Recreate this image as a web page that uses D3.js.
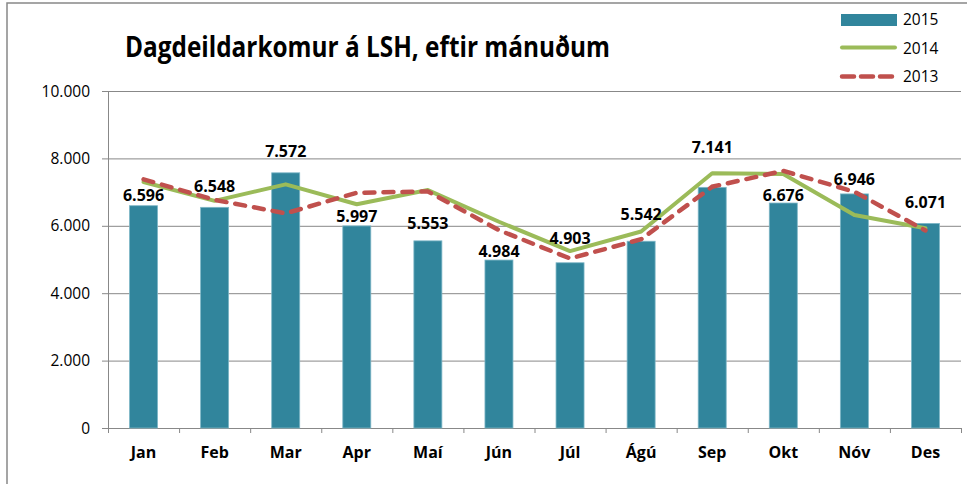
<!DOCTYPE html>
<html>
<head>
<meta charset="utf-8">
<script src="https://cdn.jsdelivr.net/npm/d3@7"></script>
<style>
  body { margin: 0; background: #fff; }
  svg { display: block; }
  text { font-family: "Open Sans", sans-serif; fill: #000; }
</style>
</head>
<body>
<div id="chart"></div>
<script>
// Gögn
const months = ["Jan", "Feb", "Mar", "Apr", "Maí", "Jún", "Júl", "Ágú", "Sep", "Okt", "Nóv", "Des"];
const v2015 = [6596, 6548, 7572, 5997, 5553, 4984, 4903, 5542, 7141, 6676, 6946, 6071];
const v2014 = [7300, 6740, 7230, 6640, 7060, 6120, 5250, 5830, 7560, 7540, 6320, 5930];
const v2013 = [7380, 6770, 6370, 6980, 7020, 5870, 5030, 5600, 7160, 7630, 7010, 5860];
const yTicks = [0, 2000, 4000, 6000, 8000, 10000];
// hve hátt merkin sitja yfir súlunum (handstillt eins og í Excel)
const labelLift = [5, 15, 16, 4, 12, 3, 19, 21, 34, 2, 9, 15];

const width = 967, height = 484;
const plotLeft = 108, plotRight = 961, plotTop = 91, plotBottom = 428;

const svg = d3.select("#chart").append("svg")
  .attr("width", width)
  .attr("height", height);

// rammi
svg.append("path")
  .attr("d", `M7,${height} V3 H${width}`)
  .attr("fill", "none")
  .attr("stroke", "#888")
  .attr("stroke-width", 1.5);

const x = d3.scaleBand().domain(months).range([plotLeft, plotRight]);
const y = d3.scaleLinear().domain([0, 10000]).range([plotBottom, plotTop]);
const fmt = d => d3.format(",")(d).replace(/,/g, ".");

// hnitalínur
svg.append("g").selectAll("line")
  .data(yTicks)
  .join("line")
  .attr("x1", plotLeft - 6).attr("x2", plotRight)
  .attr("y1", d => y(d) + 0.5).attr("y2", d => y(d) + 0.5)
  .attr("stroke", "#888").attr("stroke-width", 1);

svg.append("g").selectAll("text")
  .data(yTicks)
  .join("text")
  .attr("x", 90)
  .attr("y", d => y(d) + 5.5)
  .attr("text-anchor", "end")
  .attr("font-size", "15.5px")
  .text(d => fmt(d));

// y-ás
svg.append("line")
  .attr("x1", plotLeft + 0.5).attr("x2", plotLeft + 0.5)
  .attr("y1", plotTop).attr("y2", plotBottom + 5)
  .attr("stroke", "#888");

// x-ás merki
const bounds = months.map(m => x(m)).concat([plotRight]);
svg.append("g").selectAll("line")
  .data(bounds)
  .join("line")
  .attr("x1", d => d + 0.5).attr("x2", d => d + 0.5)
  .attr("y1", plotBottom).attr("y2", plotBottom + 5)
  .attr("stroke", "#888");

svg.append("g").selectAll("text")
  .data(months)
  .join("text")
  .attr("x", d => x(d) + x.bandwidth() / 2)
  .attr("y", 458)
  .attr("text-anchor", "middle")
  .attr("font-size", "16px")
  .attr("font-weight", "bold")
  .text(d => d);

// súlur 2015
const barW = 28;
svg.append("g").selectAll("rect")
  .data(v2015)
  .join("rect")
  .attr("x", (d, i) => x(months[i]) + x.bandwidth() / 2 - barW / 2)
  .attr("y", d => y(d))
  .attr("width", barW)
  .attr("height", d => plotBottom - y(d))
  .attr("fill", "#31859C")
  .attr("stroke", "#7db6c6")
  .attr("stroke-width", 0.8);

// línur
const line = d3.line()
  .x((d, i) => x(months[i]) + x.bandwidth() / 2)
  .y(d => y(d));

svg.append("path")
  .datum(v2014)
  .attr("d", line)
  .attr("fill", "none")
  .attr("stroke", "#9BBB59")
  .attr("stroke-width", 4)
  .attr("stroke-linecap", "round")
  .attr("stroke-linejoin", "round");

svg.append("path")
  .datum(v2013)
  .attr("d", line)
  .attr("fill", "none")
  .attr("stroke", "#C0504D")
  .attr("stroke-width", 4.5)
  .attr("stroke-linecap", "round")
  .attr("stroke-dasharray", "10,9");

// gildismerki
svg.append("g").selectAll("text")
  .data(v2015)
  .join("text")
  .attr("x", (d, i) => x(months[i]) + x.bandwidth() / 2)
  .attr("y", (d, i) => y(d) - labelLift[i])
  .attr("text-anchor", "middle")
  .attr("font-size", "16px")
  .attr("font-weight", "bold")
  .text(d => fmt(d));

// titill
svg.append("text")
  .attr("x", 125)
  .attr("y", 57)
  .attr("font-size", "28px")
  .attr("font-weight", "bold")
  .attr("textLength", 485)
  .attr("lengthAdjust", "spacingAndGlyphs")
  .text("Dagdeildarkomur á LSH, eftir mánuðum");

// skýringar
const legend = svg.append("g");
legend.append("rect")
  .attr("x", 841).attr("y", 14)
  .attr("width", 56).attr("height", 12)
  .attr("fill", "#31859C");
legend.append("line")
  .attr("x1", 842).attr("x2", 895)
  .attr("y1", 47.5).attr("y2", 47.5)
  .attr("stroke", "#9BBB59").attr("stroke-width", 4)
  .attr("stroke-linecap", "round");
legend.append("line")
  .attr("x1", 842).attr("x2", 895)
  .attr("y1", 76.5).attr("y2", 76.5)
  .attr("stroke", "#C0504D").attr("stroke-width", 4.5)
  .attr("stroke-linecap", "round")
  .attr("stroke-dasharray", "12,7");
const legendYears = ["2015", "2014", "2013"];
legend.selectAll("text")
  .data(legendYears)
  .join("text")
  .attr("x", 903)
  .attr("y", (d, i) => 25 + i * 28.5)
  .attr("font-size", "15.5px")
  .text(d => d);
</script>
</body>
</html>
